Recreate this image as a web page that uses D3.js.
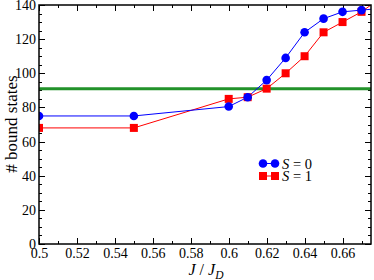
<!DOCTYPE html>
<html>
<head>
<meta charset="utf-8">
<script src="https://cdn.jsdelivr.net/npm/d3@7"></script>
<style>
  body { margin: 0; background: #fff; }
</style>
</head>
<body>
<svg id="chart" width="374" height="280"></svg>
<script>
// values
const jValues = [0.5, 0.55, 0.6, 0.61, 0.62, 0.63, 0.64, 0.65, 0.66, 0.67, 0.68]
const s0Values = [75, 75, 80.5, 86, 96, 109, 124, 132, 136, 137, 138]
const s1Values = [68, 68, 85, 86, 91, 100, 110, 124, 130, 136, 144]
const refLevel = 91
const xTicks = [0.5, 0.52, 0.54, 0.56, 0.58, 0.6, 0.62, 0.64, 0.66]
const yTicks = [0, 20, 40, 60, 80, 100, 120, 140]

const serif = 'Liberation Serif'
const margins = { top: 5, right: 3, bottom: 36, left: 39 }
const width = 374 - margins.left - margins.right
const height = 280 - margins.top - margins.bottom

const svg = d3.select('#chart')
const g = svg.append('g').attr('transform', `translate(${margins.left},${margins.top})`)

const x = d3.scaleLinear().domain([0.5, 0.675]).range([0, width])
const y = d3.scaleLinear().domain([0, 140]).range([height, 0])

svg.append('defs').append('clipPath').attr('id', 'clip')
  .append('rect').attr('width', width).attr('height', height)

const fmt = d => String(+d.toFixed(2))

// minor + major ticks, inward, on all four sides
const xMinor = d3.range(0.5, 0.6751, 0.01)
const yMinor = d3.range(0, 141, 5)
const tickG = g.append('g').attr('stroke', '#000').attr('stroke-width', 1)
xMinor.forEach((v, i) => {
  const len = i % 2 === 0 ? 6 : 3
  const px = Math.round(x(v)) + 0.5
  tickG.append('line').attr('x1', px).attr('x2', px).attr('y1', height).attr('y2', height - len)
  tickG.append('line').attr('x1', px).attr('x2', px).attr('y1', 0).attr('y2', len)
})
yMinor.forEach((v, i) => {
  const len = i % 4 === 0 ? 6 : 3
  const py = Math.round(y(v)) + 0.5
  tickG.append('line').attr('x1', 0).attr('x2', len).attr('y1', py).attr('y2', py)
  tickG.append('line').attr('x1', width).attr('x2', width - len).attr('y1', py).attr('y2', py)
})

// axes for labels
const xAxis = g.append('g').attr('transform', `translate(0,${height})`)
  .call(d3.axisBottom(x).tickValues(xTicks).tickFormat(fmt).tickSize(0).tickPadding(4))
const yAxis = g.append('g')
  .call(d3.axisLeft(y).tickValues(yTicks).tickSize(0).tickPadding(3))
;[xAxis, yAxis].forEach(a => {
  a.select('.domain').remove()
  a.selectAll('text').style('font-family', serif).style('font-size', '14px').attr('fill', '#000')
})

// reference line
g.append('line')
  .attr('x1', 0).attr('x2', width)
  .attr('y1', y(refLevel)).attr('y2', y(refLevel))
  .attr('stroke', '#22922a').attr('stroke-width', 3)

const plot = g.append('g').attr('clip-path', 'url(#clip)')
const line = vals => d3.line().x((d, i) => x(jValues[i])).y(d => y(d))(vals)

plot.append('path').attr('d', line(s1Values)).attr('fill', 'none').attr('stroke', '#ff0000').attr('stroke-width', 1)
plot.append('path').attr('d', line(s0Values)).attr('fill', 'none').attr('stroke', '#0000ff').attr('stroke-width', 1)

plot.selectAll('.sq').data(s1Values).enter().append('rect')
  .attr('x', (d, i) => x(jValues[i]) - 4).attr('y', d => y(d) - 4)
  .attr('width', 8).attr('height', 8).attr('fill', '#ff0000')
plot.selectAll('.ci').data(s0Values).enter().append('circle')
  .attr('cx', (d, i) => x(jValues[i])).attr('cy', d => y(d))
  .attr('r', 4.3).attr('fill', '#0000ff')

// frame
g.append('rect').attr('width', width).attr('height', height)
  .attr('fill', 'none').attr('stroke', '#000').attr('stroke-width', 1.5)

// legend
const leg = svg.append('g')
const legendRows = [
  { label: '0', color: '#0000ff', shape: 'circle', yy: 163.5 },
  { label: '1', color: '#ff0000', shape: 'square', yy: 176 }
]
legendRows.forEach(r => {
  leg.append('line').attr('x1', 263).attr('x2', 275).attr('y1', r.yy).attr('y2', r.yy)
    .attr('stroke', r.color).attr('stroke-width', 1)
  ;[263, 275].forEach(cx => {
    if (r.shape === 'circle') leg.append('circle').attr('cx', cx).attr('cy', r.yy).attr('r', 4.3).attr('fill', r.color)
    else leg.append('rect').attr('x', cx - 4).attr('y', r.yy - 4).attr('width', 8).attr('height', 8).attr('fill', r.color)
  })
  const t = leg.append('text').attr('x', 282).attr('y', r.yy + 5)
    .style('font-family', serif).style('font-size', '14.5px')
  t.append('tspan').style('font-style', 'italic').text('S')
  t.append('tspan').text(' = ' + r.label)
})

// axis titles
const xt = svg.append('text').attr('x', 206).attr('y', 275).attr('text-anchor', 'middle')
  .style('font-family', serif).style('font-size', '16px').style('font-style', 'italic')
xt.append('tspan').text('J')
xt.append('tspan').style('font-style', 'normal').text(' / ')
xt.append('tspan').text('J')
xt.append('tspan').style('font-size', '11.5px').attr('dy', 4).text('D')

svg.append('text')
  .attr('transform', 'translate(17,124) rotate(-90)')
  .attr('text-anchor', 'middle').style('font-family', serif).style('font-size', '17px')
  .text('# bound states')
</script>
</body>
</html>
